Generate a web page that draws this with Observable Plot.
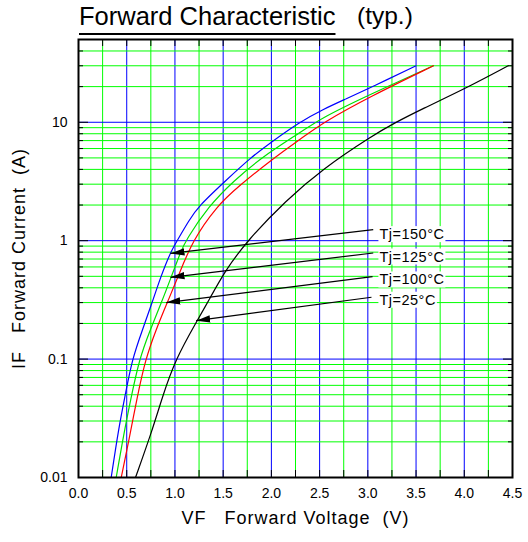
<!DOCTYPE html>
<html>
<head>
<meta charset="utf-8">
<script src="https://cdn.jsdelivr.net/npm/d3@7"></script>
<script src="https://cdn.jsdelivr.net/npm/@observablehq/plot@0.6"></script>
<style>
  body { margin: 0; background: #fff; font-family: "Liberation Sans", Arial, sans-serif; }
  #title { position: relative; width: 528px; height: 30px; }
  #title span { position: absolute; top: 3.6px; font-size: 25.5px; line-height: 1; color: #000; white-space: nowrap; }
  #t1 { left: 79px; text-decoration: underline; text-decoration-thickness: 2px; text-underline-offset: 8px; }
  #t2 { left: 357px; font-size: 24.5px !important; top: 4px !important; }
  #chart svg { display: block; }
</style>
</head>
<body>
<div id="title"><span id="t1">Forward Characteristic</span><span id="t2">(typ.)</span></div>
<div id="chart"></div>
<script>
// ---- axes / grid ----
const xTicks = [0, 0.5, 1, 1.5, 2, 2.5, 3, 3.5, 4, 4.5];
const xGrid = [0.25, 0.5, 0.75, 1, 1.25, 1.5, 1.75, 2, 2.25, 2.5, 2.75, 3, 3.25, 3.5, 3.75, 4, 4.25];
const yTicks = [0.01, 0.1, 1, 10];
const yMajor = [0.1, 1, 10];
const yMinor = [0.02, 0.03, 0.04, 0.05, 0.06, 0.07, 0.08, 0.09,
                0.2, 0.3, 0.4, 0.5, 0.6, 0.7, 0.8, 0.9,
                2, 3, 4, 5, 6, 7, 8, 9, 20, 30, 40];

// ---- series (VF in V, IF in A) ----
const tj150V = [0.339, 0.418, 0.487, 0.557, 0.66, 0.764, 0.85, 0.954, 1.023, 1.144, 1.247, 1.524, 1.78, 2.02, 2.29, 2.53, 2.77, 3.05, 3.50];
const tj150I = [0.01, 0.0266, 0.0508, 0.1, 0.174, 0.30, 0.49, 0.80, 1.0, 1.476, 1.97, 3.2, 5.0, 7.0, 10, 12.8, 15.7, 20, 30];
const tj125V = [0.391, 0.47, 0.539, 0.630, 0.74, 0.86, 0.96, 1.058, 1.11, 1.351, 1.61, 1.89, 2.30, 2.53, 3.03, 3.68];
const tj125I = [0.01, 0.0234, 0.0447, 0.1, 0.174, 0.30, 0.49, 0.80, 1.0, 1.97, 3.2, 5.0, 8.2, 11, 17.3, 30];
const tj100V = [0.443, 0.522, 0.608, 0.695, 0.80, 0.92, 1.03, 1.18, 1.438, 1.645, 2.025, 2.30, 2.54, 3.03, 3.68];
const tj100I = [0.01, 0.0205, 0.0476, 0.1, 0.174, 0.30, 0.49, 1.0, 1.97, 2.82, 5.0, 7.2, 10, 16.6, 30];
const tj25V  = [0.591, 0.764, 0.868, 1.006, 1.23, 1.35, 1.52, 1.75, 2.15, 2.53, 3.045, 3.29, 3.55, 4.05, 4.455];
const tj25I  = [0.01, 0.0249, 0.0476, 0.1, 0.211, 0.312, 0.558, 1.0, 2.18, 4.03, 7.7, 10, 12.8, 20, 30];

const seriesNames = ["Tj=150°C", "Tj=125°C", "Tj=100°C", "Tj=25°C"];
const seriesColors = ["#0000ff", "#00e000", "#ff0000", "#000000"];

// ---- annotation anchors (data units) ----
const labelV = [3.12, 3.12, 3.12, 3.12];
const labelI = [1.128, 0.730, 0.467, 0.315];
const arrowFromV = [3.056, 3.056, 3.049, 3.038];
const arrowFromI = [1.24, 0.787, 0.497, 0.333];
const arrowToV = [0.954, 0.954, 0.91, 1.22];
const arrowToI = [0.78, 0.49, 0.30, 0.211];

const xLabel = "VF\u00A0\u00A0 Forward Voltage\u00A0 (V)";
const yLabel = "IF\u00A0\u00A0 Forward Current\u00A0 (A)";

// ---- build tables ----
const seriesV = [tj150V, tj125V, tj100V, tj25V];
const seriesI = [tj150I, tj125I, tj100I, tj25I];
const rows = [];
seriesNames.forEach((name, k) => seriesV[k].forEach((v, i) => rows.push({name, V: v, I: seriesI[k][i]})));
const notes = seriesNames.map((name, k) => ({
  name, lx: labelV[k], ly: labelI[k],
  x1: arrowFromV[k], y1: arrowFromI[k], x2: arrowToV[k], y2: arrowToI[k]
}));

const BLUE = "#0000ff", GREEN = "#00ff00";
const isHalf = v => Math.abs(v * 2 - Math.round(v * 2)) < 1e-9;

const chart = Plot.plot({
  width: 528,
  height: 512,
  marginTop: 9,
  marginBottom: 65,
  marginLeft: 78,
  marginRight: 16,
  style: {fontFamily: '"Liberation Sans", Arial, sans-serif', background: "white", color: "black", overflow: "visible"},
  x: {domain: [0, 4.5]},
  y: {type: "log", domain: [0.01, 50]},
  color: {domain: seriesNames, range: seriesColors},
  marks: [
    Plot.ruleX(xGrid, {x: d => d, stroke: d => isHalf(d) ? BLUE : GREEN, strokeWidth: 1}),
    Plot.ruleY(yMinor, {y: d => d, stroke: GREEN, strokeWidth: 1}),
    Plot.ruleY(yMajor, {y: d => d, stroke: BLUE, strokeWidth: 1}),
    Plot.line(rows, {x: "V", y: "I", z: "name", stroke: "name", strokeWidth: 1.2, curve: "basis"}),
    Plot.link(notes, {x1: "x1", y1: "y1", x2: "x2", y2: "y2", stroke: "black", strokeWidth: 1.2}),
    Plot.text(notes, {x: "lx", y: "ly", text: "name", textAnchor: "start", fontSize: 14.5, fill: "black"}),
    Plot.frame({stroke: "black", strokeWidth: 2}),
    // inward ticks
    Plot.axisX({ticks: xGrid, anchor: "top", tickSize: 6, dy: 6, tickFormat: () => "", label: null, stroke: "black"}),
    Plot.axisX({ticks: xGrid, anchor: "bottom", tickSize: 7, dy: -7, tickFormat: () => "", label: null, stroke: "black"}),
    Plot.axisY({ticks: yMinor, anchor: "left", tickSize: 5, dx: 5, tickFormat: () => "", label: null, stroke: "black"}),
    Plot.axisY({ticks: yMinor, anchor: "right", tickSize: 5, dx: -5, tickFormat: () => "", label: null, stroke: "black"}),
    Plot.axisY({ticks: yMajor, anchor: "left", tickSize: 10, dx: 10, tickFormat: () => "", label: null, stroke: "black"}),
    Plot.axisY({ticks: yMajor, anchor: "right", tickSize: 10, dx: -10, tickFormat: () => "", label: null, stroke: "black"}),
    // tick labels
    Plot.axisX({ticks: xTicks, anchor: "bottom", tickSize: 0, tickPadding: 11, tickFormat: d3.format(".1f"), fontSize: 14, label: null}),
    Plot.axisY({ticks: yTicks, anchor: "left", tickSize: 0, tickPadding: 11, tickFormat: d => String(d), fontSize: 14, label: null}),
    // axis titles
    Plot.text([xLabel], {frameAnchor: "bottom", textAnchor: "middle", lineAnchor: "middle", dy: 41, text: d => d, fontSize: 18, fill: "black"}),
    Plot.text([yLabel], {frameAnchor: "left", textAnchor: "middle", lineAnchor: "middle", rotate: -90, dx: -59, dy: 0, text: d => d, fontSize: 18, fill: "black"})
  ]
});

document.getElementById("chart").appendChild(chart);

// arrowheads
const ns = "http://www.w3.org/2000/svg";
const defs = document.createElementNS(ns, "defs");
const marker = document.createElementNS(ns, "marker");
marker.setAttribute("id", "ah");
marker.setAttribute("markerUnits", "userSpaceOnUse");
marker.setAttribute("markerWidth", "16");
marker.setAttribute("markerHeight", "10");
marker.setAttribute("refX", "14");
marker.setAttribute("refY", "4");
marker.setAttribute("orient", "auto");
const mp = document.createElementNS(ns, "path");
mp.setAttribute("d", "M0,0.3L14,4L0,7.7Z");
mp.setAttribute("fill", "black");
marker.appendChild(mp);
defs.appendChild(marker);
chart.insertBefore(defs, chart.firstChild);
chart.querySelectorAll('g[aria-label="link"] path').forEach(p => p.setAttribute("marker-end", "url(#ah)"));

// text spacing & label backgrounds
chart.querySelectorAll("text").forEach(t => {
  const s = t.textContent;
  if (s === xLabel || s === yLabel) t.style.letterSpacing = "1px";
  if (s.startsWith("Tj=")) {
    t.style.letterSpacing = "0.5px";
    const b = t.getBBox();
    const r = document.createElementNS(ns, "rect");
    r.setAttribute("x", b.x - 1);
    r.setAttribute("y", b.y);
    r.setAttribute("width", b.width + 2);
    r.setAttribute("height", b.height);
    r.setAttribute("fill", "white");
    if (t.getAttribute("transform")) r.setAttribute("transform", t.getAttribute("transform"));
    t.parentNode.insertBefore(r, t);
  }
});
</script>
</body>
</html>
